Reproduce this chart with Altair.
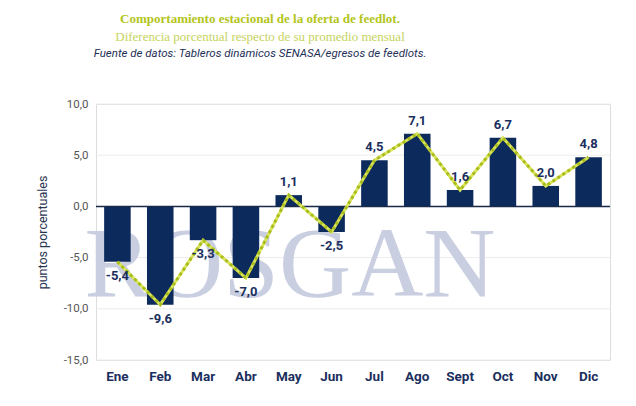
import altair as alt
import pandas as pd

months = ["Ene", "Feb", "Mar", "Abr", "May", "Jun", "Jul", "Ago", "Sept", "Oct", "Nov", "Dic"]
values = [-5.4, -9.6, -3.3, -7.0, 1.1, -2.5, 4.5, 7.1, 1.6, 6.7, 2.0, 4.8]
y_ticks = [-15, -10, -5, 0, 5, 10]

title_1 = "Comportamiento estacional de la oferta de feedlot."
title_2 = "Diferencia porcentual respecto de su  promedio mensual"
title_3 = "Fuente de datos: Tableros dinámicos SENASA/egresos de feedlots."
y_title = "puntos porcentuales"
watermark = "ROSGAN"

df = pd.DataFrame({"mes": months, "valor": values})
df["etiqueta"] = [f"{v:.1f}".replace(".", ",") for v in values]

NAVY = "#0c2a5c"
LABEL = "#1b2f5e"
W, H = 514, 256

x_axis = alt.Axis(labelAngle=0, domain=False, ticks=False, grid=False,
                  labelFont="Roboto", labelFontWeight="bold",
                  labelFontSize=13.5, labelColor=LABEL, labelPadding=9)
x_scale = alt.Scale(paddingInner=0.38, paddingOuter=0.19)
y_scale = alt.Scale(domain=[-15, 10], nice=False)
y_axis = alt.Axis(values=y_ticks, domain=False, ticks=False, grid=False,
                  labelExpr="replace(replace(format(datum.value, '.1f'), '.', ','), '\u2212', '-')",
                  labelFont="Roboto", labelFontSize=11.5, labelColor="#555555",
                  labelPadding=8, titleFont="Roboto", titleFontSize=12.5,
                  titleFontWeight="normal", titleColor="#2a3550", titlePadding=14)

base = alt.Chart(df)

grid = alt.Chart(pd.DataFrame({"valor": y_ticks})).mark_rule(color="#ececec", strokeWidth=1).encode(
    y=alt.Y("valor:Q", scale=y_scale, title=y_title, axis=y_axis),
    x=alt.value(0), x2=alt.value(W))

wm = alt.Chart(pd.DataFrame({"t": [watermark]})).mark_text(
    font="Liberation Serif", fontSize=100, color="#c9cee0",
    align="center", baseline="alphabetic"
).encode(text="t:N", x=alt.value(194), y=alt.value(192))

bars = base.mark_bar(color=NAVY).encode(
    x=alt.X("mes:N", sort=months, title=None, scale=x_scale, axis=x_axis),
    y=alt.Y("valor:Q", scale=y_scale, title=y_title, axis=y_axis))

zero = alt.Chart(pd.DataFrame({"valor": [0]})).mark_rule(color="#1a2a4a", strokeWidth=1.5).encode(
    y=alt.Y("valor:Q", scale=y_scale, title=y_title, axis=y_axis), x=alt.value(0), x2=alt.value(W))

XE = alt.X("mes:N", sort=months, title=None, scale=x_scale, axis=x_axis)
YE = alt.Y("valor:Q", scale=y_scale, title=y_title, axis=y_axis)

line_bg = base.mark_line(color="#d9e45a", strokeWidth=3).encode(x=XE, y=YE)
line_fg = base.mark_line(color="#a9bd1c", strokeWidth=3, strokeDash=[3, 3]).encode(x=XE, y=YE)

lab_pos = base.transform_filter("datum.valor >= 0").mark_text(
    font="Roboto", fontWeight="bold", fontSize=13, color=LABEL,
    baseline="bottom", dy=-6).encode(x=XE, y=YE, text="etiqueta:N")
lab_neg = base.transform_filter("datum.valor < 0").mark_text(
    font="Roboto", fontWeight="bold", fontSize=13, color=LABEL,
    baseline="top", dy=8).encode(x=XE, y=YE, text="etiqueta:N")

def header(txt, y, font, size, color, weight="normal", style="normal"):
    return alt.Chart(pd.DataFrame({"t": [txt]})).mark_text(
        font=font, fontSize=size, color=color, fontWeight=weight, fontStyle=style,
        align="center", baseline="middle").encode(text="t:N", x=alt.value(164), y=alt.value(y))

h1 = header(title_1, -85, "Liberation Serif", 13, "#b3c51b", weight="bold")
h2 = header(title_2, -67, "Liberation Serif", 13, "#c6d35c")
h3 = header(title_3, -50, "Roboto", 11.5, "#1e2f58", style="italic")

chart = alt.layer(grid, wm, bars, zero, line_bg, line_fg, lab_pos, lab_neg, h1, h2, h3).properties(
    width=W, height=H,
    autosize=alt.AutoSizeParams(type="none"),
    padding={"left": 88, "top": 96, "right": 18, "bottom": 38},
).configure_view(stroke=None).configure(background="white")

chart.save("out.html", embed_options={"renderer": "svg", "actions": False})
